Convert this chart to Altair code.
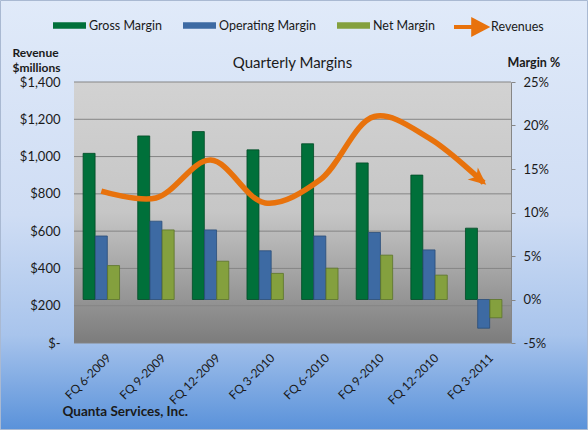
import altair as alt
import pandas as pd

quarters = ["FQ 6-2009", "FQ 9-2009", "FQ 12-2009", "FQ 3-2010",
            "FQ 6-2010", "FQ 9-2010", "FQ 12-2010", "FQ 3-2011"]
gross_margin = [16.8, 18.8, 19.3, 17.2, 17.9, 15.7, 14.3, 8.2]
operating_margin = [7.3, 9.0, 8.0, 5.6, 7.3, 7.7, 5.7, -3.3]
net_margin = [3.9, 8.0, 4.4, 3.0, 3.6, 5.1, 2.8, -2.1]
revenues = [815, 778, 981, 751, 874, 1215, 1099, 860]

series_names = ["Gross Margin", "Operating Margin", "Net Margin"]
series_colors = ["#00703a", "#3d6aa3", "#84a03e"]
series_strokes = ["#004a26", "#2a4c78", "#5c7428"]
revenue_ticks = [0, 200, 400, 600, 800, 1000, 1200, 1400]
margin_ticks = [-5, 0, 5, 10, 15, 20, 25]

W, H = 437, 261
FONT = "Lato"
TXT = "#1a1a1a"

rows = []
for name, vals in zip(series_names, [gross_margin, operating_margin, net_margin]):
    for q, v in zip(quarters, vals):
        rows.append({"quarter": q, "series": name, "margin": v})
bar_df = pd.DataFrame(rows)
rev_df = pd.DataFrame({"quarter": quarters, "revenue": revenues})
one = pd.DataFrame({"a": [0]})
tick_df = pd.DataFrame({"tick": revenue_ticks})

outer_bg = alt.Chart(one).mark_rect(
    fill=alt.LinearGradient(
        gradient="linear", x1=0, x2=0, y1=0, y2=1,
        stops=[alt.GradientStop(color="#e0eaf9", offset=0),
               alt.GradientStop(color="#cfddf4", offset=0.5),
               alt.GradientStop(color="#a8c4ec", offset=0.78),
               alt.GradientStop(color="#5a92da", offset=1)]),
    stroke="#a9b9d2", strokeWidth=1,
).encode(x=alt.value(-73.5), x2=alt.value(W + 76.5),
         y=alt.value(-81.5), y2=alt.value(H + 86.5))

plot_bg = alt.Chart(one).mark_rect(
    fill=alt.LinearGradient(
        gradient="linear", x1=0, x2=0, y1=0, y2=1,
        stops=[alt.GradientStop(color="#d2d2d2", offset=0),
               alt.GradientStop(color="#c6c6c6", offset=0.5),
               alt.GradientStop(color="#7c7c7c", offset=1)]),
).encode(x=alt.value(0), x2=alt.value(W), y=alt.value(0), y2=alt.value(H))

grid = alt.Chart(tick_df).mark_rule(color="#858585", strokeWidth=1).encode(
    y=alt.Y("tick:Q", scale=alt.Scale(domain=[0, 1400], nice=False), axis=None)
)

x_enc = alt.X(
    "quarter:N", sort=quarters,
    scale=alt.Scale(paddingInner=0.333, paddingOuter=0.1667),
    axis=alt.Axis(
        title="Quanta Services, Inc.", labelAngle=-45, labelFont=FONT,
        labelFontSize=12, labelColor=TXT, domain=False, ticks=False,
        labelPadding=9, labelOffset=4, titleFont=FONT, titleFontWeight="bold",
        titleFontSize=13.5, titleColor=TXT, titleAnchor="start",
        titleAlign="left", titleX=-12, titleY=68, titleBaseline="middle",
        zindex=1),
)

bars = alt.Chart(bar_df).mark_bar(strokeWidth=0.8).encode(
    x=x_enc,
    xOffset=alt.XOffset("series:N", sort=series_names,
                        scale=alt.Scale(paddingInner=0.02)),
    y=alt.Y("margin:Q",
            scale=alt.Scale(domain=[-5, 25], nice=False),
            axis=alt.Axis(orient="right", values=margin_ticks,
                          labelExpr="datum.value + '%'", grid=False,
                          domain=True, domainColor="#868686", ticks=True,
                          tickColor="#868686", tickSize=4, labelPadding=8,
                          labelFont=FONT, labelFontSize=13, labelColor=TXT,
                          title="Margin %", titleAngle=0, titleFont=FONT,
                          titleFontWeight="bold", titleFontSize=12.5,
                          titleColor=TXT, titleAlign="left", titleX=-4,
                          titleY=-20, titleBaseline="middle", zindex=1)),
    color=alt.Color("series:N", sort=series_names,
                    scale=alt.Scale(domain=series_names, range=series_colors),
                    legend=alt.Legend(
                        title=None, orient="none", legendX=-21, legendY=-73,
                        direction="horizontal",
                        symbolType="M-1,-0.2H1V0.2H-1Z", symbolSize=1089,
                        symbolStrokeWidth=0, labelFont=FONT, labelFontSize=12.5,
                        labelColor=TXT, labelOffset=3, columnPadding=21)),
    stroke=alt.Stroke("series:N", sort=series_names,
                      scale=alt.Scale(domain=series_names, range=series_strokes),
                      legend=None),
)

line = alt.Chart(rev_df).transform_calculate(name="'Revenues'").mark_line(
    interpolate="catmull-rom", strokeWidth=5.5
).encode(
    x=alt.X("quarter:N", sort=quarters),
    y=alt.Y("revenue:Q",
            scale=alt.Scale(domain=[0, 1400], nice=False),
            axis=alt.Axis(orient="left", values=revenue_ticks,
                          labelExpr="datum.value == 0 ? '$-\u00a0\u00a0' : '$' + format(datum.value, ',')",
                          grid=False, domain=False, ticks=False, tickSize=0,
                          labelPadding=14, labelFont=FONT, labelFontSize=13,
                          labelColor=TXT, title=["Revenue", "$millions"],
                          titleAngle=0, titleFont=FONT, titleFontWeight="bold",
                          titleFontSize=12, titleColor=TXT,
                          titleAlign="left", titleX=-62, titleY=-35,
                          titleBaseline="top", titleLineHeight=15, zindex=1)),
    color=alt.Color("name:N",
                    scale=alt.Scale(domain=["Revenues"], range=["#e8720c"]),
                    legend=alt.Legend(
                        title=None, orient="none", legendX=378, legendY=-73,
                        symbolType="M-1,0H0.45M0.2,-0.42L1,0L0.2,0.42Z",
                        symbolSize=1024, symbolStrokeWidth=4,
                        symbolFillColor="#e8720c", labelFont=FONT,
                        labelFontSize=12.5, labelColor=TXT, labelOffset=3)),
)

arrow = alt.Chart(rev_df).transform_filter(
    alt.datum.quarter == quarters[-1]
).mark_point(
    shape="M0.3,0L-1.3,-0.72L-0.85,0L-1.3,0.72Z", filled=True, size=484,
    angle=40, color="#e8720c", opacity=1,
).encode(
    x=alt.X("quarter:N", sort=quarters),
    y=alt.Y("revenue:Q", scale=alt.Scale(domain=[0, 1400], nice=False), axis=None),
)

chart = alt.layer(outer_bg, plot_bg, grid, bars, line, arrow).resolve_scale(
    y="independent", color="independent", stroke="independent"
).properties(
    width=W, height=H,
    autosize=alt.AutoSizeParams(type="none"),
    padding={"left": 74, "top": 82, "right": 77, "bottom": 87},
    title=alt.TitleParams("Quarterly Margins", font=FONT, fontSize=15,
                          fontWeight="normal", color=TXT, anchor="middle",
                          frame="group", offset=10, dy=81),
    background="#dfe9f8",
).configure_view(stroke=None)

chart.save("out.html", embed_options={"renderer": "svg", "actions": False})
